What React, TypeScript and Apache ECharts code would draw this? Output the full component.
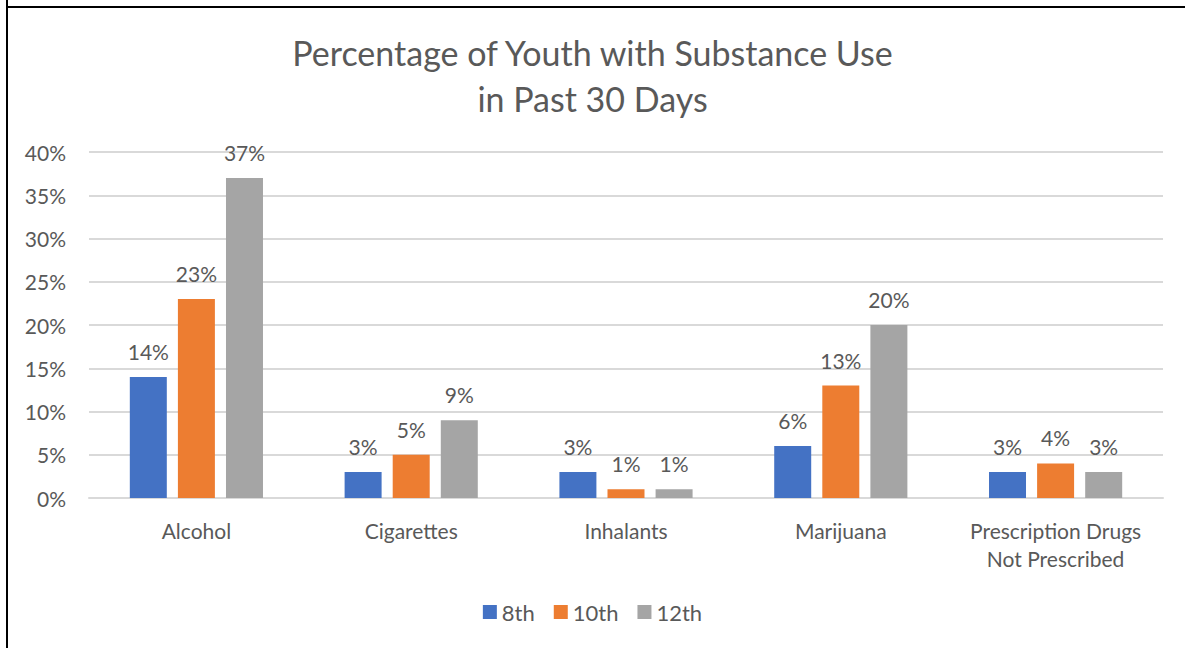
import React, { useEffect, useRef } from "react";
import * as echarts from "echarts";

const categories = ["Alcohol", "Cigarettes", "Inhalants", "Marijuana", "Prescription Drugs\nNot Prescribed"];
const seriesNames = ["8th", "10th", "12th"];
const grade8 = [14, 3, 3, 6, 3];
const grade10 = [23, 5, 1, 13, 4];
const grade12 = [37, 9, 1, 20, 3];
const yTickValues = [0, 5, 10, 15, 20, 25, 30, 35, 40];
const colors = ["#4472C4", "#ED7D31", "#A5A5A5"];

const FONT = "Lato";
const TXT = "#595959";

export default function App() {
  const ref = useRef<HTMLDivElement>(null);
  useEffect(() => {
    const chart = echarts.init(ref.current!, null, { renderer: "svg" });
    const data = [grade8, grade10, grade12];
    chart.setOption({
      animation: false,
      textStyle: { fontFamily: FONT },
      title: {
        text: "Percentage of Youth with Substance Use\nin Past 30 Days",
        left: "center",
        top: 24,
        textStyle: { fontFamily: FONT, fontSize: 34, fontWeight: "normal", color: TXT, lineHeight: 46 },
      },
      legend: {
        bottom: 20,
        left: "center",
        itemWidth: 14,
        itemHeight: 14,
        itemGap: 19,
        icon: "rect",
        textStyle: { fontFamily: FONT, fontSize: 22, color: TXT },
        data: seriesNames,
      },
      grid: { left: 89, right: 22, top: 152, bottom: 150, containLabel: false },
      xAxis: {
        type: "category",
        data: categories,
        axisLine: { lineStyle: { color: "#D9D9D9", width: 2 } },
        axisTick: { show: false },
        axisLabel: { fontFamily: FONT, fontSize: 21, color: TXT, margin: 18, lineHeight: 28, interval: 0 },
      },
      yAxis: {
        type: "value",
        min: yTickValues[0],
        max: yTickValues[yTickValues.length - 1],
        interval: yTickValues[1] - yTickValues[0],
        axisLine: { show: false },
        axisTick: { show: false },
        splitLine: { lineStyle: { color: "#D9D9D9", width: 2 } },
        axisLabel: { fontFamily: FONT, fontSize: 21, color: TXT, margin: 23, formatter: "{value}%" },
      },
      graphic: [
        { type: "line", shape: { x1: 7, y1: 0, x2: 7, y2: 648 }, style: { stroke: "#000", lineWidth: 2 } },
        { type: "line", shape: { x1: 6, y1: 7, x2: 1185, y2: 7 }, style: { stroke: "#000", lineWidth: 2 } },
      ],
      series: seriesNames.map((name, i) => ({
        name,
        type: "bar",
        data: data[i],
        barGap: "30%",
        barCategoryGap: "38%",
        itemStyle: { color: colors[i] },
        label: {
          show: true,
          position: "top",
          distance: 15,
          formatter: "{c}%",
          fontFamily: FONT,
          fontSize: 21,
          color: TXT,
        },
      })),
    });
    return () => chart.dispose();
  }, []);
  return (
    <div style={{ position: "fixed", left: 0, top: 0, width: 1185, height: 648, background: "#fff" }}>
      <div ref={ref} style={{ width: 1185, height: 648 }} />
    </div>
  );
}
